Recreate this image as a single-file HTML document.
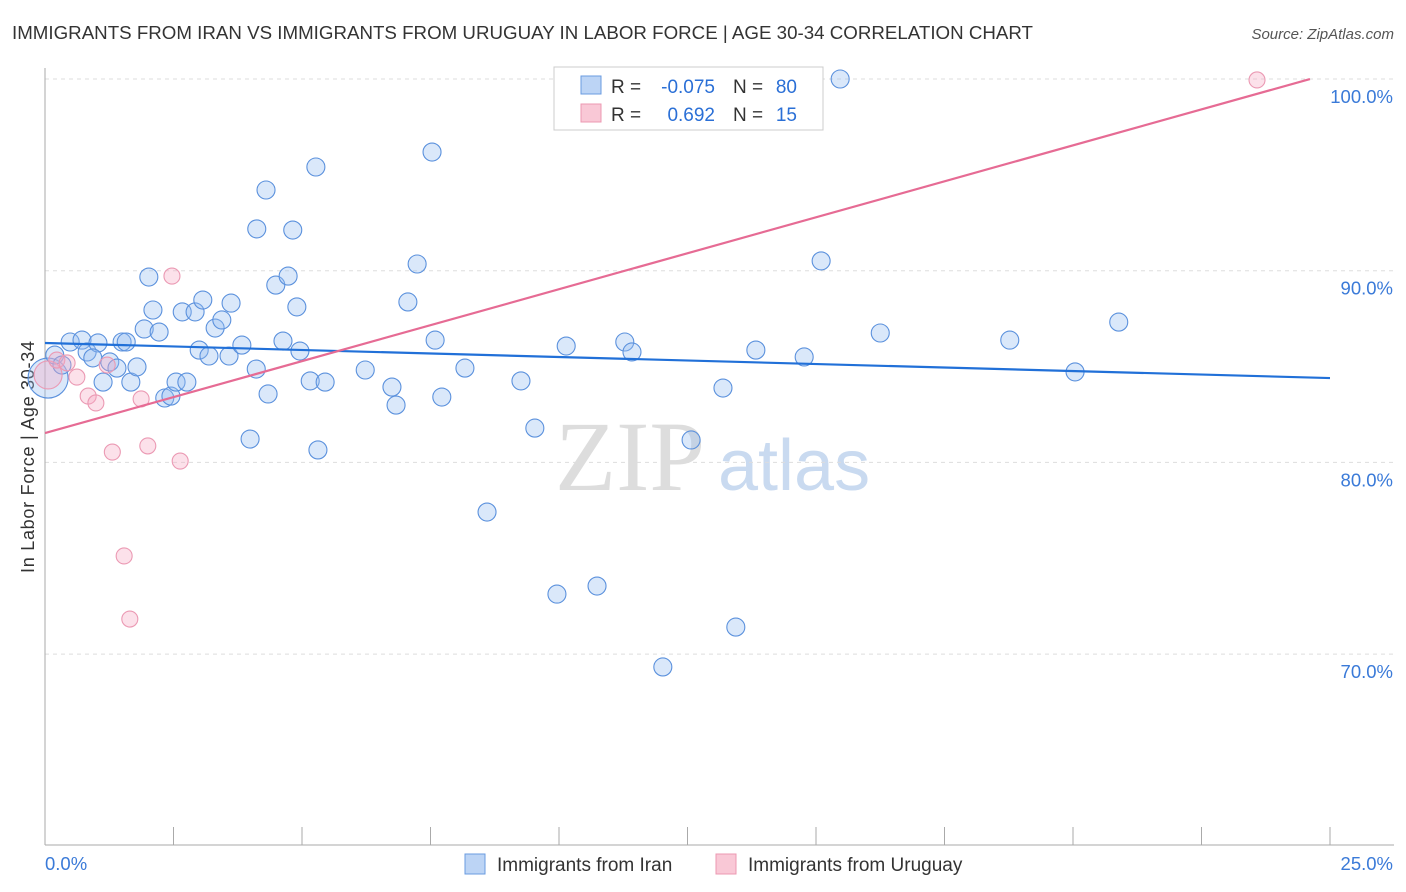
<!DOCTYPE html>
<html><head><meta charset="utf-8"><style>
body{margin:0;background:#fff;font-family:"Liberation Sans",sans-serif;}
#c{position:relative;width:1406px;height:892px;overflow:hidden}
</style></head><body><div id="c">
<svg id="s" width="1406" height="892" xmlns="http://www.w3.org/2000/svg" font-family="Liberation Sans, sans-serif">
<text x="12" y="39" font-size="18" textLength="1021" lengthAdjust="spacingAndGlyphs" fill="#333">IMMIGRANTS FROM IRAN VS IMMIGRANTS FROM URUGUAY IN LABOR FORCE | AGE 30-34 CORRELATION CHART</text>
<text x="1394" y="39" font-size="15" fill="#555" font-style="italic" text-anchor="end">Source: ZipAtlas.com</text>
<text x="555" y="490" font-size="100" fill="#ddd" font-family="Liberation Serif, serif">ZIP</text>
<text x="718" y="490" font-size="72" fill="#c9daf0">atlas</text>
<text transform="translate(34,457) rotate(-90)" font-size="18" textLength="232" fill="#333" text-anchor="middle">In Labor Force | Age 30-34</text>
<g id="grid"></g><g id="pts"></g><g id="lines"></g>
<g>
<rect x="554" y="67" width="269" height="63" fill="#fff" stroke="#ccc"/>
<rect x="581" y="76" width="20" height="18" fill="#bcd4f5" stroke="#6a9be0"/>
<rect x="581" y="104" width="20" height="18" fill="#f9c8d6" stroke="#ec98b2"/>
<text x="611" y="93" font-size="19" fill="#333">R =</text>
<text x="715" y="93" font-size="19" fill="#2a6fd6" text-anchor="end">-0.075</text>
<text x="733" y="93" font-size="19" fill="#333">N =</text>
<text x="797" y="93" font-size="19" fill="#2a6fd6" text-anchor="end">80</text>
<text x="611" y="121" font-size="19" fill="#333">R =</text>
<text x="715" y="121" font-size="19" fill="#2a6fd6" text-anchor="end">0.692</text>
<text x="733" y="121" font-size="19" fill="#333">N =</text>
<text x="797" y="121" font-size="19" fill="#2a6fd6" text-anchor="end">15</text>
</g>
<g>
<rect x="465" y="854" width="20" height="20" fill="#bcd4f5" stroke="#6a9be0"/>
<text x="497" y="871" font-size="19" fill="#333">Immigrants from Iran</text>
<rect x="716" y="854" width="20" height="20" fill="#f9c8d6" stroke="#ec98b2"/>
<text x="748" y="871" font-size="19" fill="#333">Immigrants from Uruguay</text>
</g>
</svg></div>
<script>
const yTicks=[70,80,90,100];
const xTickLabels=["0.0%","25.0%"];
const iranX=[0.06,0.19,0.33,0.49,0.72,0.82,1.03,0.93,1.13,1.26,1.40,1.50,1.58,1.67,1.79,1.93,2.02,2.10,2.22,2.33,2.45,2.55,2.67,2.76,2.92,3.00,3.07,3.19,3.31,3.44,3.58,3.62,3.83,3.99,4.11,4.12,4.30,4.34,4.49,4.63,4.73,4.82,4.90,4.96,5.16,5.27,5.31,5.45,6.23,6.75,6.83,7.06,7.24,7.53,7.59,7.72,8.17,8.60,9.26,9.53,9.96,10.14,10.74,11.05,11.28,11.42,12.02,12.57,13.19,13.44,13.83,14.77,15.10,15.47,16.25,18.77,20.04,20.89];
const iranY=[84.40,85.60,85.08,86.28,86.38,85.76,86.23,85.45,84.19,85.24,84.92,86.28,86.28,84.19,84.98,86.96,89.67,87.95,86.80,83.36,83.46,84.19,87.85,84.19,87.85,85.86,88.47,85.55,87.01,87.43,85.55,88.31,86.12,81.22,84.87,92.18,94.21,83.57,89.25,86.33,89.72,92.12,88.11,85.81,84.25,95.41,80.65,84.19,84.82,83.93,82.99,88.37,90.35,96.19,86.38,83.41,84.92,77.41,84.25,81.79,73.13,86.07,73.55,99.95,86.28,85.76,69.33,81.17,83.88,71.41,85.86,85.50,90.51,100.0,86.75,86.38,84.72,87.32];
const uruX=[0.06,0.23,0.43,0.62,0.84,0.99,1.21,1.31,1.54,1.65,1.87,2.00,2.47,2.63,23.58];
const uruY=[84.56,85.34,85.19,84.45,83.46,83.10,85.08,80.54,75.12,71.83,83.31,80.86,89.72,80.07,99.95];
const iranTrend=[86.23,84.40];
const uruTrend=[81.53,100.29];
const NS="http://www.w3.org/2000/svg";
const X=v=>45+v*51.4, Y=v=>79+(100-v)*19.17;
function mk(t,a,p){const e=document.createElementNS(NS,t);for(const k in a)e.setAttribute(k,a[k]);p.appendChild(e);return e;}
const g=document.getElementById('grid');
yTicks.forEach(t=>{
 const l=mk('line',{x1:45,x2:1394,y1:Y(t),y2:Y(t),stroke:'#ddd','stroke-dasharray':'4,4'},g);
 
 
 const tx=mk('text',{x:1393,y:Y(t)+24,'font-size':18.5,fill:'#3a7ad8','text-anchor':'end'},g);
 tx.textContent=t.toFixed(1)+'%';
 
 
});
const ax=mk('line',{x1:45,x2:45,y1:68,y2:845,stroke:'#aaa'},g);


const bx=mk('line',{x1:45,x2:1394,y1:845,y2:845,stroke:'#aaa'},g);


for(let i=0;i<=10;i++){const l=mk('line',{x1:X(i*2.5),x2:X(i*2.5),y1:827,y2:845,stroke:'#aaa'},g);
 
 }
[[0,'start',45],[25,'end',1393]].forEach((d,i)=>{const t=mk('text',{x:d[2],y:870,'font-size':18.5,fill:'#3a7ad8','text-anchor':d[1]},g);t.textContent=xTickLabels[i];
 
 });
const p=document.getElementById('pts');
iranX.forEach((x,i)=>{const c=mk('circle',{cx:X(x),cy:Y(iranY[i]),r:i==0?20:9,fill:'rgba(150,188,240,0.35)',stroke:'#5b91dd','stroke-width':1.1},p);
 
 });
uruX.forEach((x,i)=>{const c=mk('circle',{cx:X(x),cy:Y(uruY[i]),r:i==0?14:8,fill:'rgba(245,170,195,0.35)',stroke:'#eb99b3','stroke-width':1.1},p);
 
 });
const L=document.getElementById('lines');
const a=mk('line',{x1:X(0),y1:Y(iranTrend[0]),x2:X(25),y2:Y(iranTrend[1]),stroke:'#2170d8','stroke-width':2.2},L);


const xe=24.61, ye=uruTrend[0]+(uruTrend[1]-uruTrend[0])*xe/25;
const b=mk('line',{x1:X(0),y1:Y(uruTrend[0]),x2:X(xe),y2:Y(ye),stroke:'#e66b94','stroke-width':2.2},L);


</script></body></html>
